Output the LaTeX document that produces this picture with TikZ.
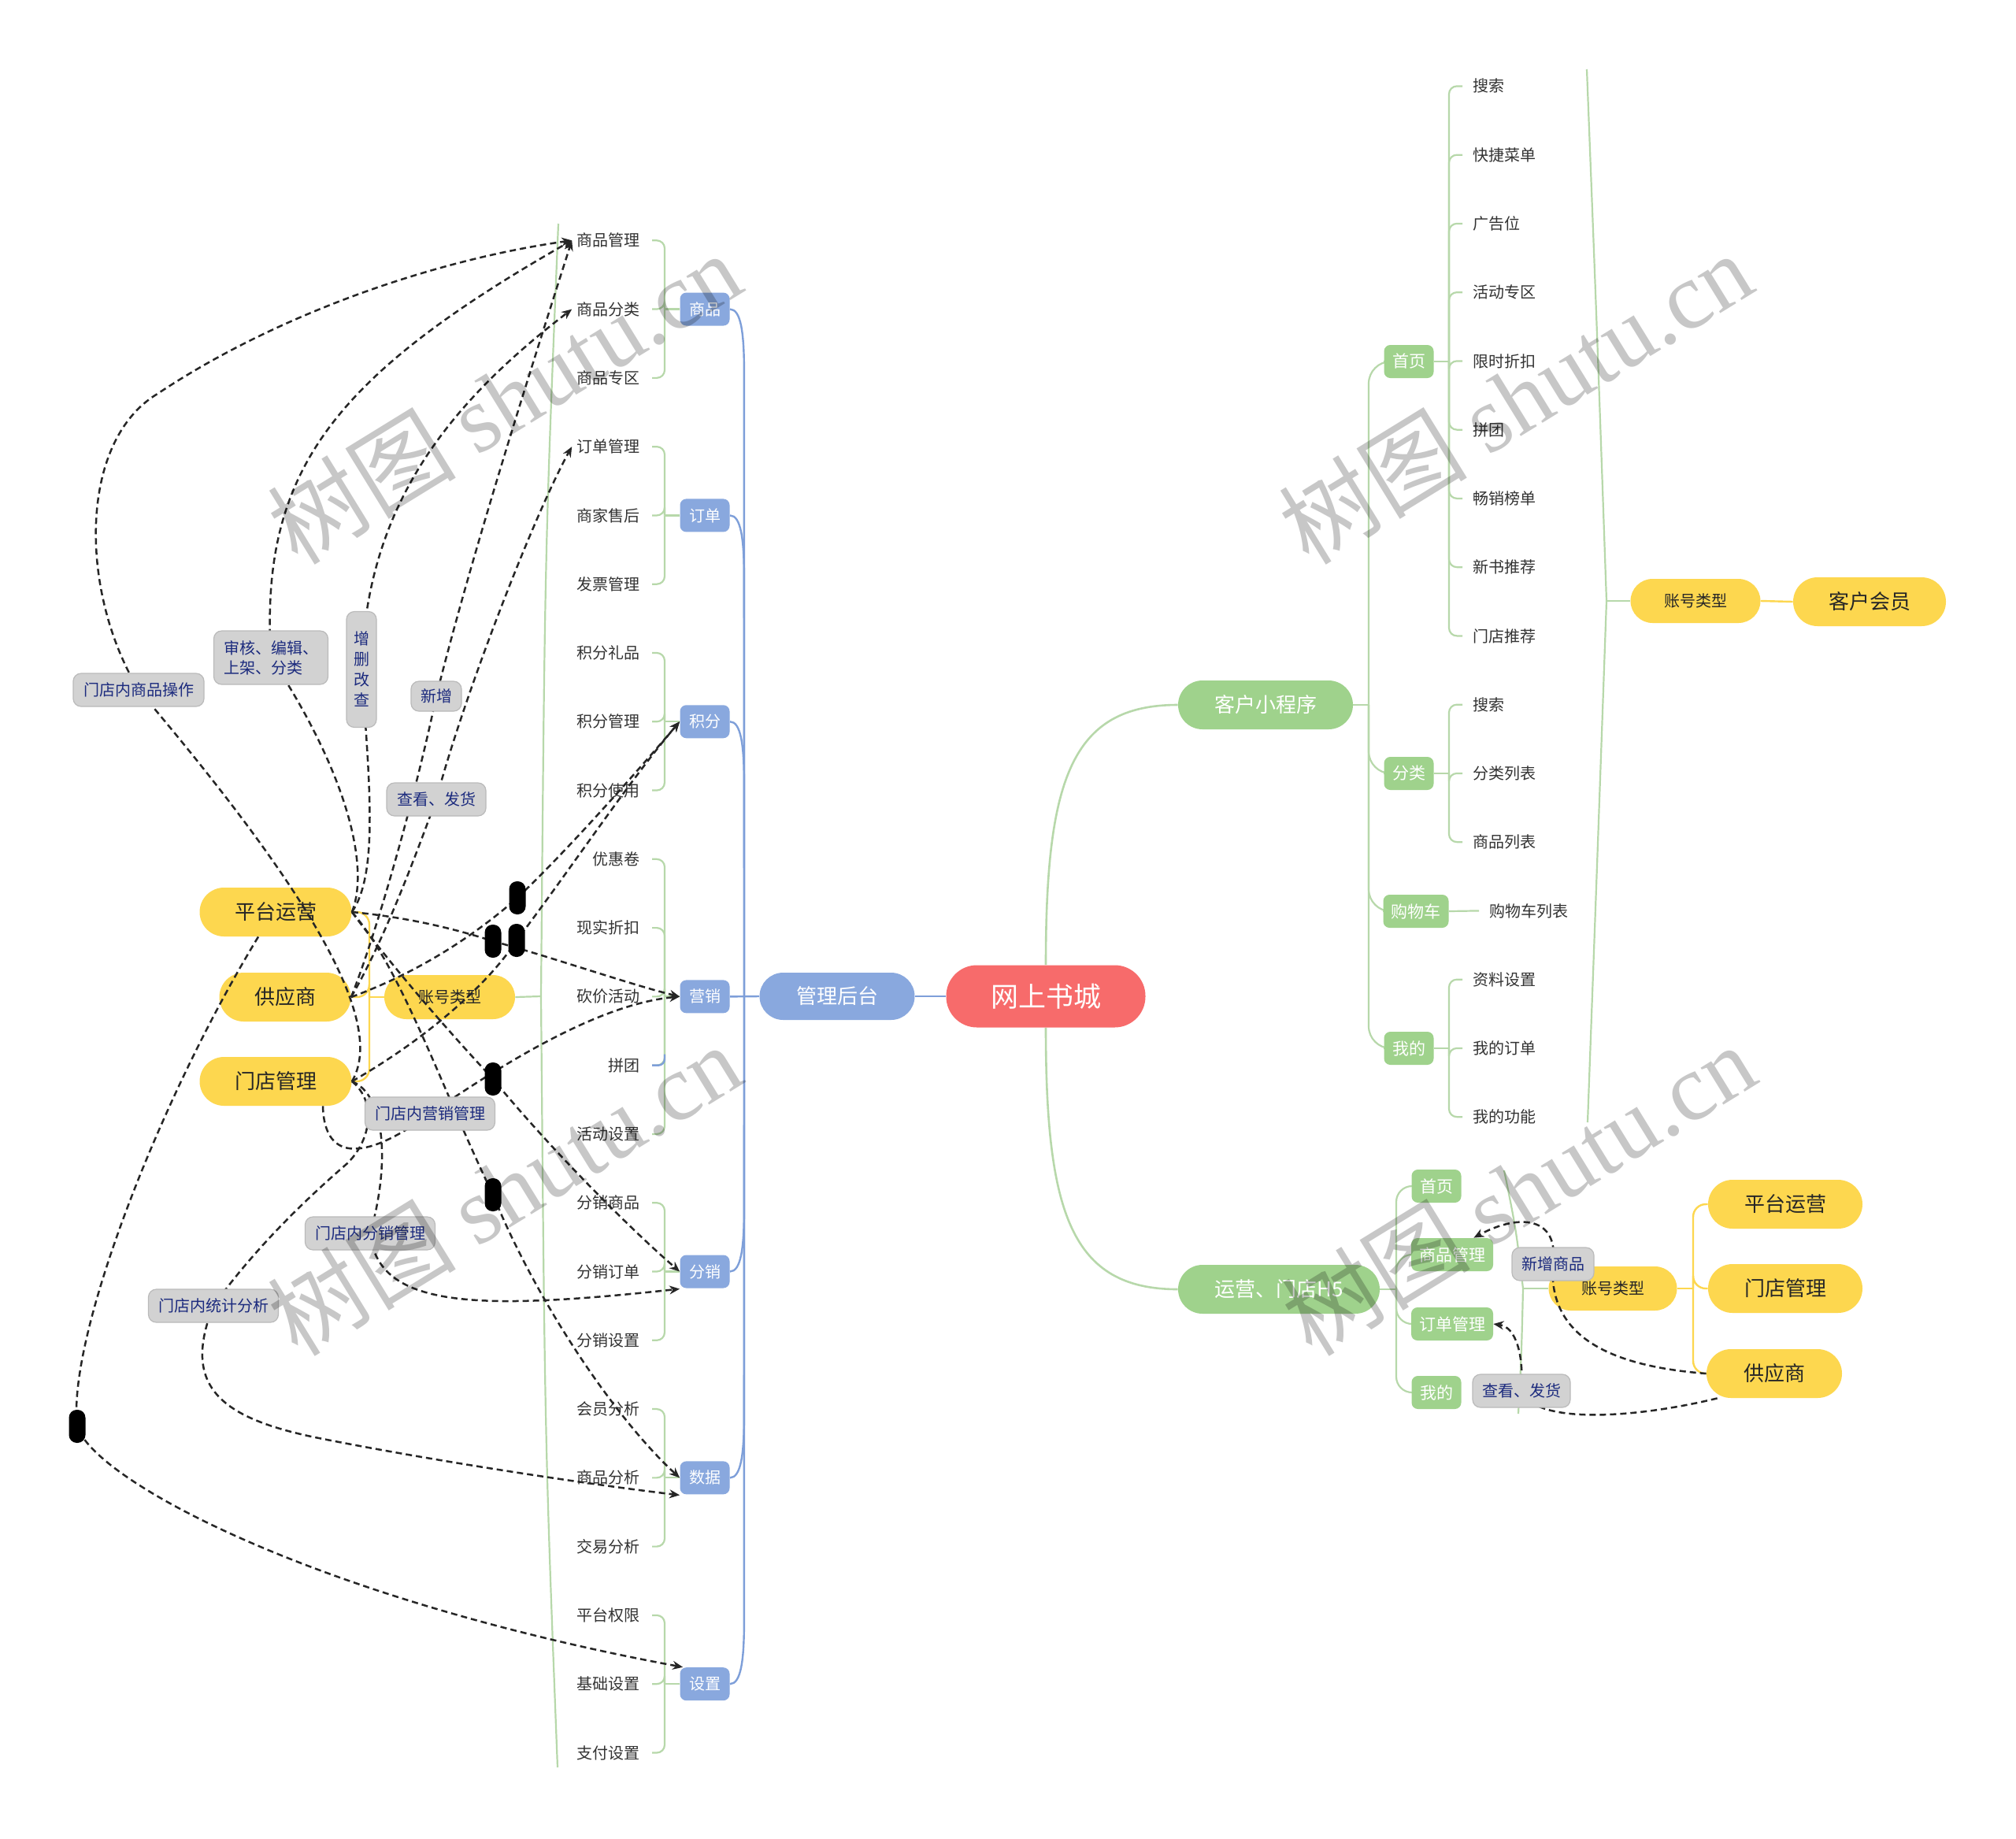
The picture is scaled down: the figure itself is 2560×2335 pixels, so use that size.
\documentclass[tikz,border=0pt]{standalone}
\usepackage{fontspec}
\setmainfont{Noto Sans CJK SC}
\newfontfamily\wmserif{Liberation Serif}
\usetikzlibrary{arrows.meta,calc}

\definecolor{rootred}{HTML}{F76B6B}
\definecolor{mblue}{HTML}{89A8DE}
\definecolor{lblue}{HTML}{7E9FD9}
\definecolor{mgreen}{HTML}{9FD28C}
\definecolor{lgreen}{HTML}{B7D8AA}
\definecolor{myellow}{HTML}{FDD74F}
\definecolor{lgray}{HTML}{D2D2D2}
\definecolor{dgray}{HTML}{BABABA}
\definecolor{navy}{HTML}{1C2B7E}

\pgfdeclarelayer{bg}
\pgfdeclarelayer{links}
\pgfdeclarelayer{top}
\pgfsetlayers{bg,main,links,top}

\begin{document}
\begin{tikzpicture}[x=0.5pt,y=-0.5pt,
  every node/.style={inner sep=0pt},
  pill/.style={rectangle,rounded corners=#1,align=center},
  root/.style={pill=19.5pt,fill=rootred,text=white,minimum width=126.5pt,minimum height=39.5pt,font=\fontsize{17.5}{20}\selectfont},
  hub/.style={pill=15pt,fill=mblue,text=white,minimum width=98.5pt,minimum height=30pt,font=\fontsize{13}{15}\selectfont},
  sub/.style={pill=4pt,fill=mblue,text=white,minimum width=31.5pt,minimum height=21pt,font=\fontsize{10}{12}\selectfont},
  leaf/.style={inner sep=3pt,text=black!80,font=\fontsize{10}{12}\selectfont},
  gmain/.style={pill=15.5pt,fill=mgreen,text=white,minimum height=31pt,font=\fontsize{13}{15}\selectfont},
  gsub/.style={pill=4pt,fill=mgreen,text=white,minimum width=31.5pt,minimum height=21pt,font=\fontsize{10.5}{12}\selectfont},
  role/.style={pill=15.5pt,fill=myellow,text=black!85,minimum height=31pt,font=\fontsize{13}{15}\selectfont},
  acct/.style={pill=14pt,fill=myellow,text=black!85,minimum height=28pt,minimum width=82.5pt,font=\fontsize{10}{12}\selectfont},
  tag/.style={pill=5pt,fill=lgray,draw=dgray,line width=0.6pt,text=navy,minimum height=21pt,font=\fontsize{10}{12.5}\selectfont},
  blk/.style={pill=5pt,fill=black,minimum width=10.5pt,minimum height=21pt},
  gline/.style={draw=lgreen,line width=1.1pt},
  bline/.style={draw=lblue,line width=1.2pt},
  yline/.style={draw=myellow,line width=1.2pt},
  rel/.style={draw=black!85,line width=1.25pt,dash pattern=on 4pt off 2.5pt,-{Stealth[length=6.5pt,width=5.5pt]}},
  wmark/.style={text=black,text opacity=0.22,rotate=31.6,font=\fontsize{60}{64}\selectfont}
]
\useasboundingbox (0,0) rectangle (2560,2335);

% centre and admin side
\node[root] (root) at (1328,1265) {网上书城};
\node[hub] (glht) at (1063,1265) {管理后台};
\foreach \n/\t/\i in {sp/商品/1,dd/订单/4,jf/积分/7,yx/营销/11,fx/分销/15,sj/数据/18,sz/设置/21}
  \node[sub] (\n) at (895,{305.3+87.28*\i}) {\t};
\foreach \t [count=\c from 0] in {商品管理,商品分类,商品专区,订单管理,商家售后,发票管理,积分礼品,积分管理,积分使用,优惠卷,现实折扣,砍价活动,拼团,活动设置,分销商品,分销订单,分销设置,会员分析,商品分析,交易分析,平台权限,基础设置,支付设置}
  \node[leaf,anchor=east] (L\c) at (819,{305.3+87.28*\c}) {\t};

% account types, admin side
\node[acct,minimum width=83pt] (zh1) at (571,1266) {账号类型};
\node[role,minimum width=96.5pt] (ptyy) at (350,1158) {平台运营};
\node[role,minimum width=83.5pt] (gys) at (362,1266) {供应商};
\node[role,minimum width=96.5pt] (mdgl) at (350,1373) {门店管理};

% mini program side
\node[gmain,minimum width=111pt] (khxcx) at (1607,895) {客户小程序};
\node[gsub] (sy) at (1789,459) {首页};
\node[gsub] (fl) at (1789,982) {分类};
\node[gsub,minimum width=41.5pt] (gwc) at (1798,1157) {购物车};
\node[gsub] (wd) at (1789,1331) {我的};
\foreach \t [count=\c from 0] in {搜索,快捷菜单,广告位,活动专区,限时折扣,拼团,畅销榜单,新书推荐,门店推荐,搜索,分类列表,商品列表,购物车列表,资料设置,我的订单,我的功能}
  \node[leaf,anchor=west] (R\c) at ({ifthenelse(\c==12,1885,1864)},{109.4+87.25*\c}) {\t};
\node[acct] (zh3) at (2153,763) {账号类型};
\node[role,minimum width=97pt] (khhy) at (2374,764) {客户会员};

% H5 side
\node[gmain,minimum width=128pt] (yyh5) at (1624,1637) {运营、门店H5};
\node[gsub] (sy2) at (1824,1506) {首页};
\node[gsub,minimum width=52pt] (spgl2) at (1844,1593) {商品管理};
\node[gsub,minimum width=52pt] (ddgl2) at (1844,1681) {订单管理};
\node[gsub] (wd2) at (1824,1768) {我的};
\node[acct,minimum width=81.5pt] (zh2) at (2048,1636) {账号类型};
\node[role,minimum width=98pt] (ptyy2) at (2267,1529) {平台运营};
\node[role,minimum width=98pt] (mdgl2) at (2267,1636) {门店管理};
\node[role,minimum width=86pt] (gys2) at (2253,1744) {供应商};

% relation labels
\begin{pgfonlayer}{top}
\node[tag,minimum width=83pt] (smcz) at (176,876) {门店内商品操作};
\node[tag,minimum width=72.5pt,minimum height=34pt,align=left] (shbj) at (344,835) {审核、编辑、\\上架、分类};
\node[tag,minimum width=19pt,minimum height=73.5pt,font=\fontsize{10}{13}\selectfont] (zsgc) at (459,850) {增\\删\\改\\查};
\node[tag,minimum width=32pt,minimum height=19pt] (xz) at (554,884) {新增};
\node[tag,minimum width=63pt] (ckfh) at (554,1015) {查看、发货};
\node[tag,minimum width=82.5pt] (yxgl) at (546,1414) {门店内营销管理};
\node[tag,minimum width=82.5pt] (fxgl) at (470,1566) {门店内分销管理};
\node[tag,minimum width=82.5pt] (tjfx) at (271,1658) {门店内统计分析};
\node[tag,minimum width=52pt] (xzsp) at (1972,1605) {新增商品};
\node[tag,minimum width=62pt] (ckfh2) at (1932,1766) {查看、发货};
\foreach \n/\x/\y in {bk1/657/1140,bk2/626/1195,bk3/656/1194,bk4/626/1370,bk5/626/1517,bk6/98/1811}
  \node[blk] (\n) at (\x,\y) {};
\node[wmark] (wm1) at (640,505) {树图 {\wmserif shutu.cn}};
\node[wmark] (wm2) at (1924,505) {树图 {\wmserif shutu.cn}};
\node[wmark] (wm3) at (640,1510) {树图 {\wmserif shutu.cn}};
\node[wmark] (wm4) at (1928,1510) {树图 {\wmserif shutu.cn}};
\end{pgfonlayer}

% tree lines
\begin{pgfonlayer}{bg}
\fill[white] (0,0) rectangle (2560,2335);
\draw[bline] (root.west) -- (glht.east);
\draw[bline] (glht.west) -- (yx.east);
\coordinate (btr) at (945,1265);
\foreach \n in {sp,dd,jf}
  \draw[bline] (\n.east) .. controls +(14,0) and +(0,-50) .. ($(\n.east)+(18,80)$) -- (btr);
\foreach \n in {fx,sj,sz}
  \draw[bline] (\n.east) .. controls +(14,0) and +(0,50) .. ($(\n.east)+(18,-80)$) -- (btr);
\foreach \p/\a/\b in {sp/0/2,dd/3/5,jf/6/8,yx/9/13,fx/14/16,sj/17/19,sz/20/22}{
  \draw[gline] (\p.west) -- (\p.west -| 844,0);
  \foreach \c in {\a,...,\b}
    \draw[gline,rounded corners=5pt] (\p.west -| 844,0) |- ([xshift=4.5pt]L\c.east);
}
\draw[bline,rounded corners=4pt] ([xshift=4.5pt]L12.east) -| ($(L12.east -| 844,0)+(0,-14)$);

\draw[gline,line width=1.3pt] (root.north) .. controls (1328,990) and (1360,895) .. (khxcx.west);
\draw[gline,line width=1.3pt] (root.south) .. controls (1328,1540) and (1360,1637) .. (yyh5.west);

\draw[gline] (khxcx.east) -- (1738,895);
\foreach \n in {sy,fl,gwc,wd}
  \draw[gline,rounded corners=14pt] (1738,895) |- (\n.west);
\foreach \p/\a/\b in {sy/0/8,fl/9/11,wd/13/15}{
  \draw[gline] (\p.east) -- (\p.east -| 1840,0);
  \foreach \c in {\a,...,\b}
    \draw[gline,rounded corners=5pt] (\p.east -| 1840,0) |- ([xshift=-3.5pt]R\c.west);
}
\draw[gline] (gwc.east) -- ([xshift=-3.5pt]R12.west);
\draw[gline] (2015,88) .. controls (2028,420) .. (2040,763) .. controls (2028,1100) .. (2016,1425);
\draw[gline] (2040,763) -- (zh3.west);
\draw[yline] (zh3.east) -- (khhy.west);

\draw[gline] (yyh5.east) -- (1773,1637);
\foreach \n in {sy2,spgl2,ddgl2,wd2}
  \draw[gline,rounded corners=10pt] (1773,1637) |- (\n.west);
\draw[gline] (1910,1486) .. controls (1925,1560) .. (1934,1636) .. controls (1932,1720) .. (1928,1795);
\draw[gline] (1934,1636) -- (zh2.west);
\draw[yline] (zh2.east) -- (2150,1636);
\foreach \n in {ptyy2,mdgl2,gys2}
  \draw[yline,rounded corners=8pt] (2150,1636) |- (\n.west);

\draw[gline] (709,284) .. controls (692,700) .. (687,1265) .. controls (692,1830) .. (708,2244);
\draw[gline] (687,1265) -- (zh1.east);
\draw[yline] (zh1.west) -- (469,1266);
\foreach \n in {ptyy,gys,mdgl}
  \draw[yline,rounded corners=8pt] (469,1266) |- (\n.east);
\end{pgfonlayer}

% relations
\begin{pgfonlayer}{links}
% 门店管理
\draw[rel] (mdgl.east) .. controls (490,1300) and (400,1140) .. (smcz.center) .. controls (100,750) and (100,560) .. (200,500) .. controls (350,400) and (550,330) .. (L0.west);
\draw[rel] ($(mdgl.south)+(60,0)$) .. controls (412,1480) and (470,1470) .. (yxgl.center) .. controls (640,1350) and (760,1275) .. (yx.west);
\draw[rel] (mdgl.east) .. controls (490,1390) and (495,1480) .. (fxgl.center) .. controls (480,1660) and (600,1665) .. ($(fx.west)+(0,22)$);
\draw[rel] (mdgl.east) .. controls (480,1400) and (470,1450) .. (440,1478) .. controls (380,1530) and (320,1590) .. (tjfx.center) .. controls (230,1760) and (280,1800) .. (400,1825) .. controls (550,1855) and (750,1885) .. ($(sj.west)+(0,22)$);
\draw[rel] (mdgl.east) .. controls (540,1320) and (620,1250) .. (bk3.center) .. controls (720,1110) and (800,990) .. (jf.west);
% 平台运营
\draw[rel] (ptyy.east) .. controls (470,1100) and (440,980) .. (shbj.center) .. controls (330,600) and (420,480) .. (L0.west);
\draw[rel] (ptyy.east) .. controls (480,1110) and (470,1000) .. (zsgc.center) .. controls (465,650) and (560,520) .. (L1.west);
\draw[rel] (ptyy.east) .. controls (520,1165) and (580,1180) .. (bk2.center) .. controls (700,1215) and (800,1250) .. (yx.west);
\draw[rel] (ptyy.east) .. controls (500,1230) and (570,1310) .. (bk4.center) .. controls (700,1460) and (800,1560) .. (fx.west);
\draw[rel] (ptyy.east) .. controls (510,1230) and (560,1380) .. (bk5.center) .. controls (680,1650) and (780,1800) .. (sj.west);
\draw[rel] (ptyy.-125) .. controls (200,1400) and (85,1700) .. (bk6.center) .. controls (120,1880) and (400,2030) .. ($(sz.north west)+(4,0)$);
% 供应商
\draw[rel] (gys.east) .. controls (480,1180) and (530,1000) .. (xz.center) .. controls (600,700) and (680,450) .. (L0.west);
\draw[rel] (gys.east) .. controls (490,1190) and (530,1080) .. (ckfh.center) .. controls (590,880) and (680,650) .. (L3.west);
\draw[rel] (gys.east) .. controls (530,1235) and (600,1190) .. (bk1.center) .. controls (720,1080) and (800,990) .. (jf.west);
% H5 side
\draw[rel] (gys2.west) .. controls (2050,1735) and (1965,1700) .. (xzsp.center) .. controls (1980,1545) and (1930,1540) .. ($(spgl2.north east)+(-25,0)$);
\draw[rel] ($(gys2.south west)+(14,0)$) .. controls (2080,1800) and (1950,1810) .. (ckfh2.center) .. controls (1935,1720) and (1925,1685) .. (ddgl2.east);
\end{pgfonlayer}
\end{tikzpicture}
\end{document}
